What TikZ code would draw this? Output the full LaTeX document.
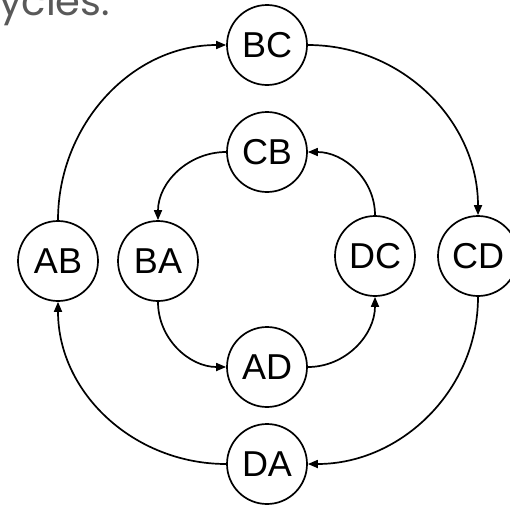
\documentclass[tikz,border=0pt]{standalone}
\usepackage{fontspec}
\setmainfont{Liberation Sans}
\newfontfamily\headfont{Poppins}
\usetikzlibrary{arrows.meta}
\definecolor{headgray}{RGB}{89,89,89}
\begin{document}
\begin{tikzpicture}[x=1pt,y=-1pt,
  state/.style={circle,draw,line width=1.7pt,minimum size=80pt,inner sep=0pt,font=\fontsize{36}{40}\selectfont},
  edge/.style={line width=1.7pt,-{Triangle[length=10pt,width=8pt]}}]
\useasboundingbox (0,0) rectangle (510,506);
\node[anchor=base west,inner sep=0pt,text=headgray,font=\headfont\fontsize{40}{44}\selectfont] (head) at (-1,15) {ycles.};
\node[state] (BC) at (267,45) {BC};
\node[state] (CB) at (267,152) {CB};
\node[state] (AB) at (58,261) {AB};
\node[state] (BA) at (158,261) {BA};
\node[state] (DC) at (375,256) {DC};
\node[state] (CD) at (478,256) {CD};
\node[state] (AD) at (267,367) {AD};
\node[state] (DA) at (267,464) {DA};
\draw[edge] (AB.north) to[out=90,in=180] (BC.west);
\draw[edge] (BC.east) to[out=0,in=90] (CD.north);
\draw[edge] (CD.south) to[out=-90,in=0] (DA.east);
\draw[edge] (DA.west) to[out=180,in=-90] (AB.south);
\draw[edge] (CB.west) to[out=180,in=90] (BA.north);
\draw[edge] (BA.south) to[out=-90,in=180] (AD.west);
\draw[edge] (AD.east) to[out=0,in=-90] (DC.south);
\draw[edge] (DC.north) to[out=90,in=0] (CB.east);
\end{tikzpicture}
\end{document}
